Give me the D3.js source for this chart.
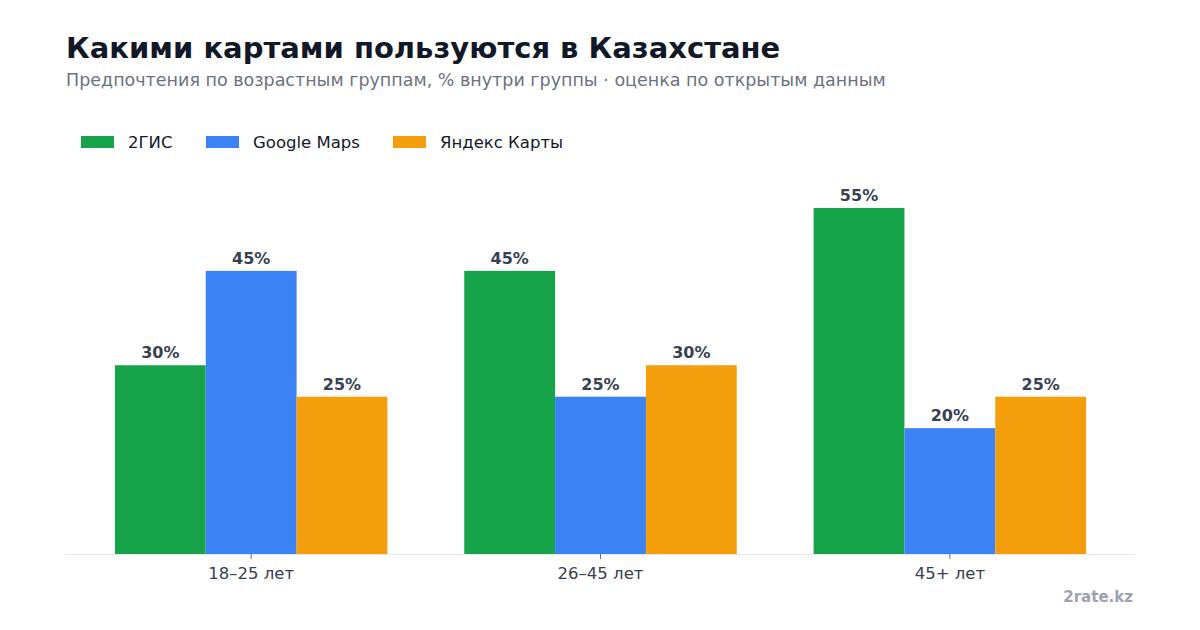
<!DOCTYPE html>
<html><head><meta charset="utf-8">
<script src="https://cdn.jsdelivr.net/npm/d3@7"></script>
<style>body{margin:0;background:#fff}svg{display:block;font-family:"DejaVu Sans",sans-serif}</style>
</head><body><svg id="c" width="1200" height="630"></svg>
<script>
const categories = ["18–25 лет", "26–45 лет", "45+ лет"];
const seriesNames = ["2ГИС", "Google Maps", "Яндекс Карты"];
const values2gis = [30, 45, 55];
const valuesGoogle = [45, 25, 20];
const valuesYandex = [25, 30, 25];
const colors = ["#16a34a", "#3b82f6", "#f59e0b"];

const series = [values2gis, valuesGoogle, valuesYandex];
const svg = d3.select("#c");
const L = 66, R = 1135, B = 554;
const x0 = d3.scaleBand().domain(categories).range([L, R]).paddingInner(0.22).paddingOuter(0.14);
const x1 = d3.scaleBand().domain(seriesNames).range([0, x0.bandwidth()]).padding(0);
const y = d3.scaleLinear().domain([0, 60]).range([B, B - 377.5]);

svg.append("text").attr("x", 66).attr("y", 58).attr("font-size", 29).attr("font-weight", "bold").attr("fill", "#111827").text("Какими картами пользуются в Казахстане");
svg.append("text").attr("x", 66).attr("y", 86).attr("font-size", 17.5).attr("fill", "#6b7280").text("Предпочтения по возрастным группам, % внутри группы · оценка по открытым данным");

// legend
const lg = svg.append("g");
const legX = [81, 206, 393];
seriesNames.forEach((s, i) => {
  lg.append("rect").attr("x", legX[i]).attr("y", 136).attr("width", 33).attr("height", 12).attr("fill", colors[i]);
  lg.append("text").attr("x", legX[i] + 47).attr("y", 148).attr("font-size", 16.5).attr("fill", "#111827").text(s);
});

// axis
const ax = svg.append("g").attr("transform", `translate(0,${B})`).call(d3.axisBottom(x0).tickSize(5).tickPadding(8));
ax.select(".domain").attr("stroke", "#e5e7eb").attr("d", `M${L},0.5H${R}`);
ax.selectAll(".tick line").attr("stroke", "#6b7280");
ax.selectAll(".tick text").attr("font-size", 16.5).attr("fill", "#374151").attr("font-family", "DejaVu Sans");

const g = svg.append("g");
categories.forEach((c, ci) => {
  series.forEach((vals, si) => {
    const v = vals[ci];
    const bx = x0(c) + x1(seriesNames[si]);
    g.append("rect").attr("x", bx).attr("y", y(v)).attr("width", x1.bandwidth()).attr("height", B - y(v)).attr("fill", colors[si]);
    g.append("text").attr("x", bx + x1.bandwidth() / 2).attr("y", y(v) - 7).attr("text-anchor", "middle")
      .attr("font-size", 16).attr("font-weight", "bold").attr("fill", "#374151").text(v + "%");
  });
});

svg.append("text").attr("x", 1133).attr("y", 602).attr("text-anchor", "end").attr("font-size", 15).attr("font-weight", "bold").attr("fill", "#9ca3af").text("2rate.kz");
</script></body></html>
